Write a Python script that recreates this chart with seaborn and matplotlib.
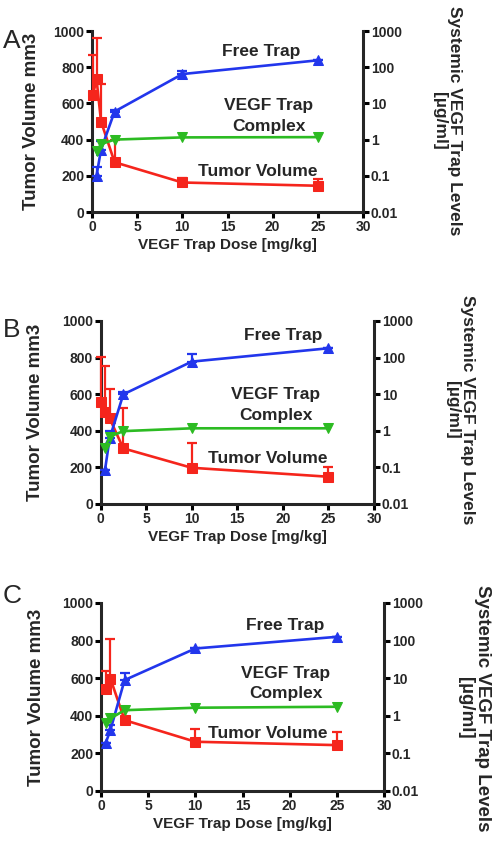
import numpy as np
import matplotlib
matplotlib.use("Agg")
import matplotlib.pyplot as plt
from matplotlib.ticker import FixedLocator, FixedFormatter, NullLocator
import seaborn as sns

# ---------------- data ----------------
# Panel A
a_vol_dose = [0.1, 0.5, 1, 2.5, 10, 25]
a_vol = [645, 735, 500, 275, 163, 145]
a_vol_err = [225, 225, 205, 125, 27, 35]
a_trap_dose = [0.5, 1, 2.5, 10, 25]
a_free = [0.10, 0.53, 5.96, 64.6, 155]
a_free_err = [0.08, 0.41, 0.7, 14, 0]
a_complex = [0.47, 0.75, 1.0, 1.15, 1.17]

# Panel B
b_vol_dose = [0, 0.5, 1, 2.5, 10, 25]
b_vol = [559, 505, 468, 304, 198, 149]
b_vol_err = [242, 251, 160, 219, 134, 55]
b_trap_dose = [0.5, 1, 2.5, 10, 25]
b_free = [0.087, 0.62, 9.9, 77.6, 180]
b_free_err = [0, 0.38, 1.8, 48, 0]
b_complex = [0.33, 0.69, 0.98, 1.17, 1.17]

# Panel C
c_vol_dose = [0.5, 1, 2.5, 10, 25]
c_vol = [540, 598, 377, 262, 244]
c_vol_err = [99, 213, 53, 67, 68]
c_trap_dose = [0.5, 1, 2.5, 10, 25]
c_free = [0.19, 0.42, 8.9, 61.7, 126]
c_free_err = [0, 0.14, 4.6, 0, 0]
c_complex = [0.63, 0.85, 1.41, 1.64, 1.74]

x_ticks = [0, 5, 10, 15, 20, 25, 30]
left_ticks = [0, 200, 400, 600, 800, 1000]
right_ticks = [0.01, 0.1, 1, 10, 100, 1000]
right_tick_labels = ["0.01", "0.1", "1", "10", "100", "1000"]
panel_letters = ["A", "B", "C"]
right_labels = ["Systemic VEGF Trap Levels\n[µg/ml]",
                "Systemic VEGF Trap Levels\n[µg/ml]",
                "Systemic VEGF Trap Levels\n[µg/ml]"]

RED = "#F5251C"
BLUE = "#2236EC"
GREEN = "#2CBB22"

sns.set_style("ticks")
plt.rcParams["font.family"] = ["Liberation Sans", "DejaVu Sans"]
plt.rcParams["font.weight"] = "bold"

W, H = 494, 843
fig = plt.figure(figsize=(W / 100, H / 100), dpi=100)

# pixel geometry of each panel: left, right, top, bottom
geoms = [(92, 363, 31, 212), (100.5, 374, 321, 504), (101, 384, 603, 791)]
letter_pos = [(12, 41), (12, 330), (12, 596)]
ylabel_x = [40, 44, 45]
rlabel_pos = [(447, 121, 12.5), (460, 410, 12.5), (474, 708, 13.5)]
# annotation positions in data coords (dose, left-axis value)
ann = [
    {"free": (18.7, 884), "vegf": (19.6, 586), "cplx": (19.6, 475), "tum": (18.3, 221)},
    {"free": (20.0, 923), "vegf": (19.2, 596), "cplx": (19.2, 486), "tum": (18.3, 251)},
    {"free": (19.5, 882), "vegf": (19.6, 627), "cplx": (19.6, 520), "tum": (17.7, 308)},
]

panels = [
    (a_vol_dose, a_vol, a_vol_err, a_trap_dose, a_free, a_free_err, a_complex),
    (b_vol_dose, b_vol, b_vol_err, b_trap_dose, b_free, b_free_err, b_complex),
    (c_vol_dose, c_vol, c_vol_err, c_trap_dose, c_free, c_free_err, c_complex),
]

LW = 2.2
MS = 6.5
for i, (vd, vv, ve, td, fr, fe, cp) in enumerate(panels):
    l, r, t, b = geoms[i]
    ax = fig.add_axes([l / W, 1 - b / H, (r - l) / W, (b - t) / H])
    ax2 = ax.twinx()
    ax2.set_yscale("log")

    # tumour volume (left axis)
    sns.lineplot(x=vd, y=vv, ax=ax, color=RED, marker="s", markersize=MS,
                 markeredgecolor=RED, linewidth=1.9, clip_on=False, zorder=3)
    ax.errorbar(vd, vv, yerr=[np.zeros(len(ve)), ve], fmt="none", ecolor=RED,
                elinewidth=1.6, capsize=3.5, capthick=1.6, clip_on=False, zorder=3)

    # free trap and complex (right log axis)
    sns.lineplot(x=td, y=fr, ax=ax2, color=BLUE, marker="^", markersize=MS,
                 markeredgecolor=BLUE, linewidth=1.9, clip_on=False, zorder=3)
    ax2.errorbar(td, fr, yerr=[np.zeros(len(fe)), fe], fmt="none", ecolor=BLUE,
                 elinewidth=1.6, capsize=3.5, capthick=1.6, clip_on=False, zorder=3)
    sns.lineplot(x=td, y=cp, ax=ax2, color=GREEN, marker="v", markersize=MS,
                 markeredgecolor=GREEN, linewidth=1.9, clip_on=False, zorder=3)

    ax.set_xlim(0, 30)
    ax.set_ylim(0, 1000)
    ax2.set_ylim(0.01, 1000)
    ax.set_xticks(x_ticks)
    ax.set_yticks(left_ticks)
    ax2.yaxis.set_major_locator(FixedLocator(right_ticks))
    ax2.yaxis.set_major_formatter(FixedFormatter(right_tick_labels))
    ax2.yaxis.set_minor_locator(NullLocator())

    for a in (ax, ax2):
        a.spines["top"].set_visible(False)
        for s in ("left", "right", "bottom"):
            a.spines[s].set_linewidth(LW)
        a.tick_params(axis="both", which="major", direction="out", length=4,
                      width=LW, labelsize=10, pad=1.5, color="black")
    ax.spines["right"].set_visible(False)
    ax2.spines["left"].set_visible(False)
    ax2.spines["bottom"].set_visible(False)

    ax.set_xlabel("VEGF Trap Dose [mg/kg]", fontsize=11, fontweight="bold", labelpad=3)
    ax.set_ylabel("Tumor Volume mm3", fontsize=13.5, fontweight="bold")
    ax.yaxis.set_label_coords((ylabel_x[i] - l) / (r - l), 0.5)
    ax2.set_ylabel("")

    rx, ry, rfs = rlabel_pos[i]
    fig.text(rx / W, 1 - ry / H, right_labels[i],
             rotation=270, ha="center", va="center", multialignment="center",
             fontsize=rfs, fontweight="bold", linespacing=1.05)

    lx, ly = letter_pos[i]
    fig.text(lx / W, 1 - ly / H, panel_letters[i], ha="center", va="center",
             fontsize=19, fontweight="normal")

    an = ann[i]
    ax.text(*an["free"], "Free Trap", ha="center", va="center", fontsize=12.5,
            fontweight="bold")
    ax.text(*an["vegf"], "VEGF Trap", ha="center", va="center", fontsize=12.5,
            fontweight="bold")
    ax.text(*an["cplx"], "Complex", ha="center", va="center", fontsize=12.5,
            fontweight="bold")
    ax.text(*an["tum"], "Tumor Volume", ha="center", va="center", fontsize=12.5,
            fontweight="bold")

fig.savefig("out.png", dpi=100)
